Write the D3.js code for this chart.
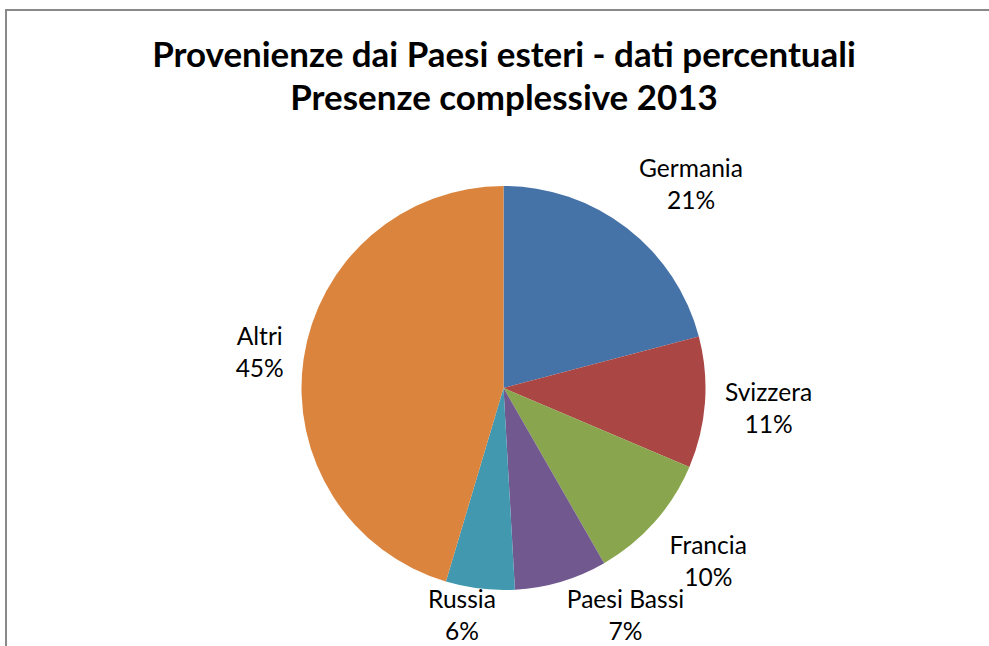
<!DOCTYPE html>
<html><head><meta charset="utf-8">
<script src="https://cdn.jsdelivr.net/npm/d3@7"></script>
<style>html,body{margin:0;padding:0;background:#fff;overflow:hidden}</style>
</head><body>
<svg id="c" width="989" height="646"></svg>
<script>
const titleLines = ["Provenienze dai Paesi esteri - dati percentuali", "Presenze complessive 2013"];
const categories = ["Germania", "Svizzera", "Francia", "Paesi Bassi", "Russia", "Altri"];
const values = [20.9, 10.5, 10.3, 7.4, 5.5, 45.4];
const percentLabels = ["21%", "11%", "10%", "7%", "6%", "45%"];
const colors = ["#4572A7", "#AA4643", "#89A54E", "#71588F", "#4198AF", "#DB843D"];

const W = 989, H = 646;
const svg = d3.select("#c");
const FONT = "Lato, 'Liberation Sans', sans-serif";

svg.append("rect").attr("x", 6).attr("y", 10).attr("width", 1100).attr("height", 1100)
  .attr("fill", "#fff").attr("stroke", "#898989").attr("stroke-width", 2);

// Title
const title = svg.append("g");
const tl = title.selectAll("text").data(titleLines).join("text")
  .attr("x", 504).attr("y", (d, i) => i === 0 ? 67 : 110)
  .attr("text-anchor", "middle").attr("font-family", FONT).attr("font-weight", "bold")
  .attr("font-size", 30).attr("fill", "#000").text(d => d);
const w0 = tl.nodes()[0].getComputedTextLength();
tl.attr("font-size", 30 * 704 / w0);

const cx = 503.5, cy = 388, R = 202;
const pie = d3.pie().sort(null).value(d => d)(values);
const arc = d3.arc().innerRadius(0).outerRadius(R);
const g = svg.append("g").attr("transform", `translate(${cx},${cy})`);
g.selectAll("path").data(pie).join("path")
  .attr("d", arc).attr("fill", (d, i) => colors[i]);

// Labels
let labelSize = 21;
const probe = svg.append("text").attr("font-family", FONT).attr("font-size", labelSize).text("Germania");
labelSize = labelSize * 104 / probe.node().getComputedTextLength();
probe.remove();
const lineH = 32;
const lg = svg.append("g");
pie.forEach((p, i) => {
  const a = (p.startAngle + p.endAngle) / 2;
  const s = Math.sin(a), c = Math.cos(a);
  const ar = R + 20;
  const ax = cx + s * ar, ay = cy - c * ar;
  const t = lg.append("text").attr("font-family", FONT).attr("font-size", labelSize)
    .attr("text-anchor", "middle").attr("fill", "#000");
  t.append("tspan").attr("x", 0).attr("dy", 0).text(categories[i]);
  t.append("tspan").attr("x", 0).attr("dy", lineH).text(percentLabels[i]);
  const w = Math.max(...t.selectAll("tspan").nodes().map(n => n.getComputedTextLength()));
  const h = lineH * 2;
  const kx = Math.max(-1, Math.min(1, s * 4));
  const ky = -c * 1.15;
  let mx = ax + kx * w / 2;
  let my = ay + ky * h / 2 + 3;
  my = Math.min(my, 617);
  t.attr("transform", `translate(${mx},${my - lineH / 2 + 7})`);
});
</script>
</body></html>
